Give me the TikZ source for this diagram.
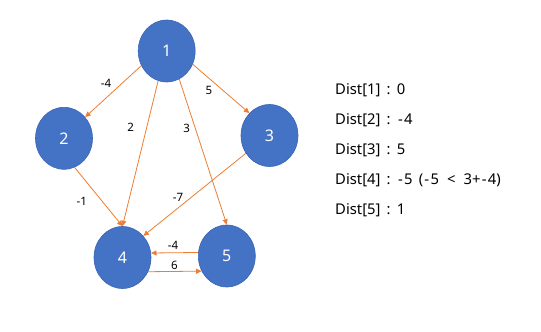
\documentclass[tikz,border=0pt]{standalone}
\usepackage{fontspec}
\setmainfont{Noto Sans}
\usetikzlibrary{shapes.geometric,arrows.meta}
\definecolor{nodeblue}{HTML}{4472C4}
\definecolor{nodeedge}{HTML}{3A65B3}
\definecolor{arrorange}{HTML}{ED7D31}
\tikzset{
  vertex/.style={ellipse, fill=nodeblue, draw=nodeedge, line width=0.6pt,
    minimum width=57pt, minimum height=62pt, inner sep=0pt,
    text=white, font=\fontsize{16}{18}\selectfont},
  edge/.style={draw=arrorange, line width=0.8pt,
    -{Triangle[length=5.5pt,width=5pt]}},
  wlabel/.style={inner sep=0pt, font=\fontsize{11.5}{13}\selectfont},
  distline/.style={anchor=west, inner sep=0pt, font=\fontsize{14.8}{17}\selectfont}
}
\newcommand{\wsp}{\hspace{0.42em}}
\newcommand{\wwsp}{\hspace{0.55em}}
\newcommand{\mn}{\kern1.2pt-\kern1.3pt}
\begin{document}
\begin{tikzpicture}[x=1pt,y=-1pt]
\useasboundingbox (0,0) rectangle (541,332);
\node[vertex] (n1) at (166.7,51) {1};
\node[vertex] (n2) at (64,138.3) {2};
\node[vertex] (n3) at (269.5,135.5) {3};
\node[vertex] (n4) at (122.5,257.5) {4};
\node[vertex] (n5) at (226.8,256) {5};

\draw[edge] (n1.210.5) -- (n2.45);
\draw[edge] (n1.254.3) -- (n4.90);
\draw[edge] (n1.294.6) -- (n5.90);
\draw[edge] (n1.333.7) -- (n3.132.2);
\draw[edge] (n2.290.3) -- (n4.90);
\draw[edge] (n3.217) -- (n4.46.3);
\draw[edge] (n5.173.5) -- (n4.9.3);
\draw[edge] (n4.331.7) -- (n5.211.9);

\node[wlabel] (l12) at (106,83) {-4};
\node[wlabel] (l14) at (130.7,127.7) {2};
\node[wlabel] (l15) at (186.7,128) {3};
\node[wlabel] (l13) at (209,90.7) {5};
\node[wlabel] (l24) at (81.7,201) {-1};
\node[wlabel] (l34) at (178,197) {-7};
\node[wlabel] (l54) at (173,245.7) {-4};
\node[wlabel] (l45) at (174.3,265.7) {6};

\node[distline] (d1) at (335,90) {Dist[1]\wsp:\wsp0};
\node[distline] (d2) at (335,120) {Dist[2]\wsp:\wsp\mn4};
\node[distline] (d3) at (335,150) {Dist[3]\wsp:\wsp5};
\node[distline] (d4) at (335,180) {Dist[4]\wsp:\wsp\mn5\wsp(\mn5\wwsp<\wwsp3+\mn4)};
\node[distline] (d5) at (335,210) {Dist[5]\wsp:\wsp1};
\end{tikzpicture}
\end{document}
